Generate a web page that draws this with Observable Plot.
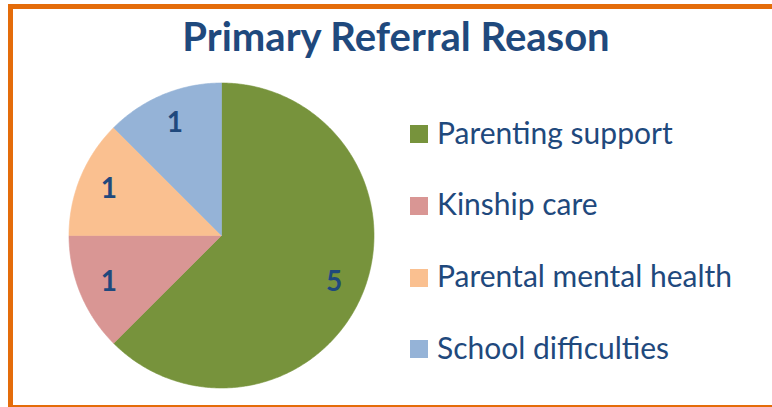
<!DOCTYPE html>
<html><head><meta charset="utf-8">
<script src="https://cdn.jsdelivr.net/npm/d3@7"></script>
<script src="https://cdn.jsdelivr.net/npm/@observablehq/plot@0.6"></script>
<style>
html,body{margin:0;padding:0;background:#fff;width:772px;height:407px;overflow:hidden;}
#wrap{position:relative;width:772px;height:407px;overflow:hidden;}
#wrap svg{position:absolute;left:0;top:0;}
#frame{position:absolute;left:8px;top:4px;width:800px;height:406px;box-sizing:border-box;border:5px solid #E46C0A;}
#title{position:absolute;left:0;width:792px;top:16px;text-align:center;font-family:Lato,sans-serif;font-weight:bold;font-size:40px;line-height:40px;color:#1F497D;white-space:nowrap;}
.row{position:absolute;left:410px;height:18px;}
.sw{position:absolute;left:0;top:0;width:18px;height:18px;}
.lb{position:absolute;left:27px;top:-8.5px;font-family:Lato,sans-serif;font-size:30px;line-height:30px;color:#1F497D;white-space:nowrap;}
</style>
</head><body>
<div id="wrap"></div>
<script>
const title = "Primary Referral Reason";
const categories = ["Parenting support", "Kinship care", "Parental mental health", "School difficulties"];
const values = [5, 1, 1, 1];
const colors = ["#77933C", "#D99694", "#FAC090", "#95B3D7"];

const cx = 221, cy = 235, R = 152.5;
const data = categories.map((name, i) => ({name, value: values[i]}));
const arcs = d3.pie().sort(null).value(d => d.value).startAngle(0).endAngle(2 * Math.PI)(data);

const pts = [];
arcs.forEach(a => {
  const name = a.data.name;
  pts.push({name, x: 0, y: 0});
  const n = Math.max(2, Math.ceil((a.endAngle - a.startAngle) / (Math.PI / 360)));
  for (let k = 0; k <= n; k++) {
    const t = a.startAngle + (a.endAngle - a.startAngle) * k / n;
    pts.push({name, x: Math.sin(t), y: Math.cos(t)});
  }
  pts.push({name, x: 0, y: 0});
});
const labels = arcs.map(a => {
  const t = (a.startAngle + a.endAngle) / 2;
  return {text: String(a.data.value), x: 0.8 * Math.sin(t), y: 0.8 * Math.cos(t)};
});

const plot = Plot.plot({
  width: 772, height: 407, margin: 0,
  x: {domain: [-1, 1], range: [cx - R, cx + R], axis: null},
  y: {domain: [-1, 1], range: [cy + R, cy - R], axis: null},
  color: {domain: categories, range: colors},
  style: {background: "white"},
  marks: [
    Plot.line(pts, {x: "x", y: "y", z: "name", fill: "name", stroke: "name", strokeWidth: 0.6, curve: "linear"}),
    Plot.text(labels, {x: "x", y: "y", text: "text", fill: "#1F497D", fontSize: 28, fontWeight: "bold", fontFamily: "Lato, sans-serif"})
  ]
});
const wrap = document.getElementById("wrap");
wrap.appendChild(plot);

const frame = document.createElement("div"); frame.id = "frame"; wrap.appendChild(frame);
const t = document.createElement("div"); t.id = "title"; t.textContent = title; wrap.appendChild(t);

const color = plot.scale("color");
categories.forEach((c, i) => {
  const row = document.createElement("div"); row.className = "row";
  row.style.top = (125 + i * 71.8) + "px";
  const sw = document.createElement("div"); sw.className = "sw";
  sw.style.background = color.range[color.domain.indexOf(c)];
  const lb = document.createElement("div"); lb.className = "lb"; lb.textContent = c;
  row.appendChild(sw); row.appendChild(lb); wrap.appendChild(row);
});
</script>
</body></html>
